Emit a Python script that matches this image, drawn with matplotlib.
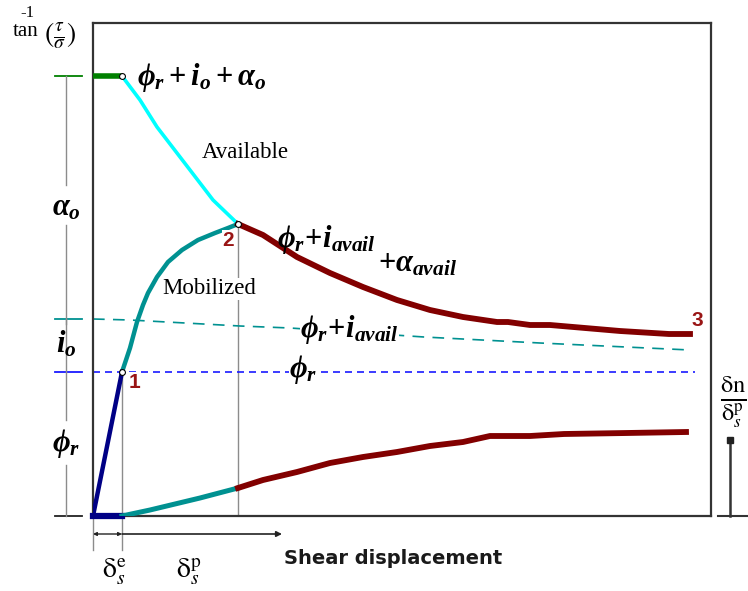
import matplotlib
matplotlib.use("Agg")
import matplotlib.pyplot as plt

plt.rcParams["mathtext.fontset"] = "custom"
plt.rcParams["mathtext.it"] = "Liberation Serif:italic:bold"
plt.rcParams["mathtext.rm"] = "Liberation Serif:bold"
plt.rcParams["mathtext.bf"] = "Liberation Serif:bold"

# ---- characteristic levels of the strength model ----
phi_r = 144            # residual friction angle
i_o = 53               # initial dilation angle
alpha_o = 243          # initial asperity angle
peak = phi_r + i_o + alpha_o
delta_e = 29           # elastic shear displacement
delta_peak = 145       # displacement at mobilised peak
peak_mob = 292         # mobilised peak angle

# ---- curves (shear displacement, angle) ----
avail_x = [29, 47, 64, 97, 120, 145]
avail_y = [440, 416, 389, 346, 316, 292]
mob_x = [29, 37, 44, 50, 55, 64, 75, 89, 105, 122, 135, 145]
mob_y = [144, 168, 194, 211, 223, 239, 254, 266, 276, 283, 288, 292]
post_x = [145, 170, 204, 237, 270, 304, 337, 370, 404, 415, 437, 457, 492, 527, 576, 597]
post_y = [292, 281, 259, 243, 229, 216, 206, 199, 194, 194, 191, 191, 188, 185, 182, 182]
iavail_x = [0, 37, 147, 197, 331, 447, 597]
iavail_y = [197, 196, 190, 188, 179, 173, 166]

# ---- dilation (normal / plastic shear displacement) ----
dil_pre_x = [29, 57, 107, 145]
dil_pre_y = [0, 6, 18, 28]
dil_post_x = [145, 170, 204, 237, 270, 304, 337, 370, 397, 437, 471, 534, 593]
dil_post_y = [28, 36, 44, 53, 59, 64, 70, 74, 80, 80, 82, 83, 84]

GREEN = "#008000"
CYAN = "#00ffff"
TEAL = "#009191"
MAROON = "#820000"
NAVY = "#000085"
BLUE = "#1a1aff"
GRAY = "#8c8c8c"
NUM = "#991515"

fig = plt.figure(figsize=(7.48, 5.91), dpi=100)
ax = fig.add_axes([93 / 748, 75 / 591, 618 / 748, 493 / 591])
ax.set_xlim(0, 618)
ax.set_ylim(0, 493)
ax.set_xticks([])
ax.set_yticks([])
for s in ax.spines.values():
    s.set_linewidth(1.6)
    s.set_color("#333333")

# reference levels
ax.plot([0, 602], [phi_r, phi_r], color=BLUE, lw=1.2, dashes=(4.2, 3.0), zorder=2)
ax.plot(iavail_x, iavail_y, color=TEAL, lw=1.2, dashes=(7.0, 5.0), zorder=2)

# helper verticals
ax.plot([delta_e, delta_e], [-34, phi_r], color=GRAY, lw=1.0, zorder=1, clip_on=False)
ax.plot([0, 0], [-34, 0], color=GRAY, lw=1.0, zorder=1, clip_on=False)
ax.plot([delta_peak, delta_peak], [0, peak_mob], color=GRAY, lw=1.0, zorder=1)

# strength curves
ax.plot([0, delta_e], [peak, peak], color=GREEN, lw=4, solid_capstyle="butt", zorder=4)
ax.plot(avail_x, avail_y, color=CYAN, lw=2.6, zorder=4)
ax.plot(mob_x, mob_y, color=TEAL, lw=3.2, zorder=4)
ax.plot(post_x, post_y, color=MAROON, lw=4.2, zorder=4)
ax.plot([0, delta_e], [0, phi_r], color=NAVY, lw=3.2, zorder=4)
ax.plot([0, delta_e], [0, 0], color=NAVY, lw=4.5, zorder=4, clip_on=False)

# dilation curves
ax.plot(dil_pre_x, dil_pre_y, color=TEAL, lw=3.6, zorder=4)
ax.plot(dil_post_x, dil_post_y, color=MAROON, lw=4.2, zorder=4)

# state points
ax.plot([delta_e, delta_e, delta_peak], [peak, phi_r, peak_mob], "o", ms=4.2,
        mfc="white", mec="black", mew=0.8, zorder=6)

# point numbers
for x, y, t in [(42, 134, "1"), (135, 276, "2"), (604, 196, "3")]:
    ax.text(x, y, t, color=NUM, fontsize=15, fontweight="bold",
            family="Liberation Sans", ha="center", va="center", zorder=7,
            bbox=dict(fc="white", ec="none", pad=0.3))

lab = dict(fontsize=22, color="black", zorder=8)
ax.text(44, 439, r"$\phi_r+i_o+\alpha_o$", ha="left", va="center", **lab)
ax.text(184, 277, r"$\phi_r\!+\!i_{avail}$", ha="left", va="center", **lab)
ax.text(285, 252, r"$+\alpha_{avail}$", ha="left", va="center", **lab)
ax.text(207, 186, r"$\phi_r\!+\!i_{avail}$", ha="left", va="center",
        bbox=dict(fc="white", ec="none", pad=0.3), **lab)
ax.text(196, 146, r"$\phi_r$", ha="left", va="center",
        bbox=dict(fc="white", ec="none", pad=0.3), **lab)

serif = dict(family="Liberation Serif", fontsize=16.5, color="black", ha="center", va="center")
ax.text(152, 364, "Available", **serif)
ax.text(116, 227, "Mobilized", bbox=dict(fc="white", ec="none", pad=0.5), zorder=3, **serif)

# left-hand scale of angle components
for y0, c in [(peak, GREEN), (phi_r + i_o, TEAL), (phi_r, BLUE), (0, "#222222")]:
    ax.plot([-38, -11], [y0, y0], color=c, lw=1.3, clip_on=False)
for y0, y1 in [(331, 440), (192, 291), (96, 197), (0, 51)]:
    ax.plot([-27, -27], [y0, y1], color=GRAY, lw=1.0, clip_on=False)
ax.text(-27, 308, r"$\alpha_o$", ha="center", va="center", **lab)
ax.text(-27, 172, r"$i_o$", ha="center", va="center", **lab)
ax.text(-27, 72, r"$\phi_r$", ha="center", va="center", **lab)

# axis title
ax.text(-80, 484, "tan", family="Liberation Serif", fontsize=15, ha="left", va="center")
ax.text(-73, 503, "-1", family="Liberation Serif", fontsize=12, ha="left", va="center")
ax.text(-49, 480, r"$(\frac{\tau}{\sigma})$", math_fontfamily="stix",
        fontsize=20, ha="left", va="center")

# shear displacement arrows
ax.annotate("", xy=(0, -18), xytext=(delta_e, -18), annotation_clip=False,
            arrowprops=dict(arrowstyle="<|-|>", color="#222222", lw=1.0,
                            mutation_scale=5, shrinkA=0, shrinkB=0))
ax.annotate("", xy=(189, -18), xytext=(delta_e, -18), annotation_clip=False,
            arrowprops=dict(arrowstyle="-|>", color="#222222", lw=1.2,
                            mutation_scale=8, shrinkA=0, shrinkB=0))
ax.text(21, -56, r"$\mathrm{\delta}_s^{\mathrm{e}}$", math_fontfamily="stix",
        fontsize=20, ha="center", va="center")
ax.text(96, -56, r"$\mathrm{\delta}_s^{\mathrm{p}}$", math_fontfamily="stix",
        fontsize=20, ha="center", va="center")
ax.text(300, -43, "Shear displacement", family="DejaVu Sans", fontweight="bold",
        fontsize=14, color="#1a1a1a", ha="center", va="center")

# dilation scale on the right
ax.text(640, 114, r"$\frac{\mathrm{\delta n}}{\mathrm{\delta}_s^{\mathrm{p}}}$",
        math_fontfamily="stix", fontsize=25, ha="center", va="center", clip_on=False)
ax.plot([637, 637], [0, 76], color="#333333", lw=1.8, clip_on=False)
ax.plot([637], [76], "s", ms=4, color="#222222", clip_on=False)
ax.plot([625, 655], [0, 0], color="#333333", lw=1.5, clip_on=False)

fig.savefig("out.png", dpi=100)
